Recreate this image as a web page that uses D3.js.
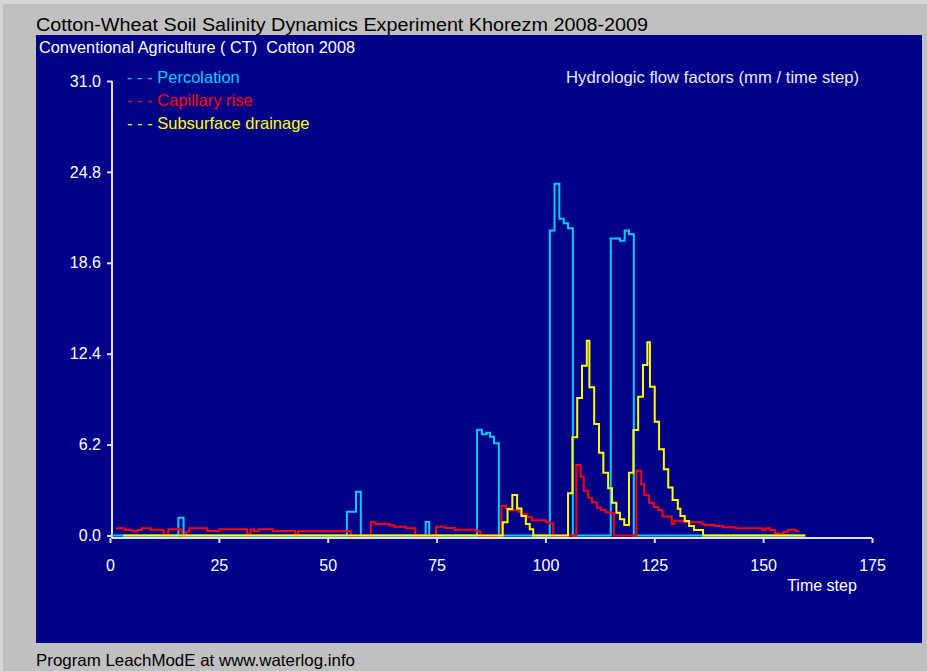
<!DOCTYPE html>
<html>
<head>
<meta charset="utf-8">
<script src="https://cdn.jsdelivr.net/npm/d3@7"></script>
<style>
body { margin: 0; background: #c0c0c0; }
text { font-family: "Liberation Sans", Arial, sans-serif; white-space: pre; }
</style>
</head>
<body>
<script>
var width = 927,
    height = 671;

var timeTicks = [0, 25, 50, 75, 100, 125, 150, 175];
var flowTicks = [0, 6.2, 12.4, 18.6, 24.8, 31.0];

// [time step, mm] - value is held until the next time step
var percolation = [[0.5, 0], [15.7, 1.21], [16.9, 0], [54.4, 1.62], [56.5, 2.99], [57.6, 0], [72.5, 0.92], [73.3, 0],
    [84.3, 7.22], [85.4, 6.9], [86.5, 7.0], [87.3, 6.74], [88.2, 6.29], [89.3, 0],
    [101.0, 20.8], [102.1, 24.0], [103.2, 21.6], [104.2, 21.3], [105.2, 20.95], [106.3, 0],
    [115.0, 20.25], [117.1, 20.1], [118.2, 20.8], [119.2, 20.55], [120.3, 0], [159.7, 0]];

var capillaryRise = [[1.4, 0.49], [3.4, 0.375], [5.2, 0.29], [6.3, 0.375], [7.3, 0.49], [9.3, 0.4], [12.3, 0], [13.4, 0.42],
    [16.5, 0], [17.5, 0.26], [18.2, 0.49], [22.3, 0.31], [25.1, 0.42], [31.5, 0.1], [32.3, 0.42], [33.1, 0.31], [34.1, 0.42],
    [37.4, 0.31], [42.5, 0.05], [43.2, 0.29], [55.3, 0], [59.9, 0.9], [61.0, 0.78], [64.1, 0.7], [65.2, 0.6], [68.0, 0.49],
    [70.1, 0], [74.9, 0.6], [77.0, 0.51], [79.2, 0.4], [84.0, 0.29], [85.1, 0], [89.9, 2.03], [90.9, 1.85], [91.8, 1.72],
    [93.8, 1.62], [94.4, 1.45], [95.7, 1.26], [96.8, 1.04], [100.1, 0.9], [101.0, 0.83], [101.8, 0],
    [107.1, 4.81], [108.1, 4.01], [108.8, 3.06], [109.8, 2.58], [110.7, 2.26], [111.8, 1.9], [112.8, 1.74], [113.8, 1.58],
    [114.8, 1.51], [115.7, 0], [120.9, 4.42], [122.0, 3.49], [122.7, 2.76], [123.8, 2.24], [124.9, 1.94], [125.9, 1.74],
    [126.9, 1.3], [129.0, 0.78], [129.6, 1.0], [131.8, 0.9], [135.9, 0.78], [136.6, 0.72], [138.7, 0.65], [140.8, 0.56],
    [143.7, 0.49], [149.9, 0.38], [150.6, 0.49], [151.5, 0.38], [152.7, 0.15], [154.7, 0.26], [155.7, 0.4], [157.5, 0.31], [158.3, 0.31]];

var subsurfaceDrainage = [[3, 0], [90.2, 0.9], [91.3, 1.81], [92.4, 2.76], [93.5, 1.85], [94.5, 1.33], [95.5, 0.78], [96.4, 0.42], [97.2, 0],
    [105.2, 2.88], [106.2, 6.7], [107.3, 9.38], [108.4, 11.58], [109.5, 13.29], [110.1, 10.11], [111.2, 7.6], [112.3, 5.65],
    [113.3, 4.28], [114.4, 3.22], [115.3, 2.24], [116.3, 1.56], [117.1, 1.1], [118.1, 0.72],
    [119.2, 4.28], [120.2, 7.2], [121.3, 9.47], [122.4, 11.63], [123.4, 13.18], [124.0, 10.15], [125.1, 7.76], [126.1, 5.88],
    [127.2, 4.52], [128.2, 3.27], [129.2, 2.42], [130.4, 1.83], [131.0, 1.33], [132.0, 0.99], [133.0, 0.65], [134.1, 0.38],
    [136.2, 0], [159.7, 0]];

var seriesNames = ['Percolation', 'Capillary rise', 'Subsurface drainage'];
var seriesColors = ['#00ccff', '#ff0000', '#ffff00'];
var seriesData = [percolation, capillaryRise, subsurfaceDrainage];

var svg = d3.select('body').append('svg').attr('width', width).attr('height', height);

// window + panel
svg.append('rect').attr('width', width).attr('height', height).attr('fill', '#c0c0c0');
svg.append('rect').attr('x', 0).attr('y', 0).attr('width', width).attr('height', 4).attr('fill', '#d6d6d6');
svg.append('rect').attr('x', 0).attr('y', 0).attr('width', 3).attr('height', height).attr('fill', '#d6d6d6');
svg.append('rect').attr('x', 36).attr('y', 35).attr('width', 886).attr('height', 608).attr('fill', '#000088');

function label(x0, y0, color, size, txt, len) {
    var t = svg.append('text').attr('x', x0).attr('y', y0).attr('fill', color).style('font-size', size + 'px').text(txt);
    if (len) t.attr('textLength', len).attr('lengthAdjust', 'spacingAndGlyphs');
    return t;
}
label(36, 31, '#000', 18, 'Cotton-Wheat Soil Salinity Dynamics Experiment Khorezm 2008-2009', 612);
label(39, 53, '#fff', 16.3, 'Conventional Agriculture ( CT)  Cotton 2008', 316);
label(566, 83, '#e8e8f8', 16.5, 'Hydrologic flow factors (mm / time step)', 293);
label(36, 666, '#000', 16.5, 'Program LeachModE at www.waterlog.info', 319);

var x = d3.scaleLinear().domain([0, 175]).range([110, 872]);
var y = d3.scaleLinear().domain([0, 31]).range([535.5, 81]);

// axes
var axisColor = '#e0e0f0';
var xAxis = svg.append('g').attr('transform', 'translate(0,' + (y(0) + 2.5) + ')')
    .call(d3.axisBottom(x).tickValues(timeTicks).tickSize(5).tickSizeOuter(0).tickPadding(17));
var yAxis = svg.append('g').attr('transform', 'translate(' + (x(0) + 2) + ',0)')
    .call(d3.axisLeft(y).tickValues(flowTicks).tickFormat(d3.format('.1f')).tickSize(5).tickSizeOuter(0).tickPadding(6));
[xAxis, yAxis].forEach(function (g) {
    g.select('.domain').remove();
    g.selectAll('line').attr('stroke', axisColor).attr('stroke-width', 2);
    g.selectAll('text').attr('fill', '#fff').style('font-size', '16px').style('font-family', '"Liberation Sans", Arial, sans-serif');
});
svg.append('line').attr('x1', x(0) + 2).attr('x2', x(175)).attr('y1', y(0) + 2.5).attr('y2', y(0) + 2.5)
    .attr('stroke', axisColor).attr('stroke-width', 2);
svg.append('line').attr('x1', x(0) + 2).attr('x2', x(0) + 2).attr('y1', y(31)).attr('y2', y(0) + 2.5)
    .attr('stroke', axisColor).attr('stroke-width', 2);

label(822, 591, '#fff', 16, 'Time step').attr('text-anchor', 'middle');

// series
var line = d3.line()
    .x(function (d) { return x(d[0]); })
    .y(function (d) { return y(d[1]); })
    .curve(d3.curveStepAfter);

svg.selectAll('path.series')
    .data(seriesData)
    .enter()
    .append('path')
    .attr('class', 'series')
    .attr('d', line)
    .attr('fill', 'none')
    .attr('stroke', function (d, i) { return seriesColors[i]; })
    .attr('stroke-width', 2);

// legend
svg.selectAll('text.legend')
    .data(seriesNames)
    .enter()
    .append('text')
    .attr('class', 'legend')
    .attr('x', 127)
    .attr('y', function (d, i) { return 83 + i * 23; })
    .attr('fill', function (d, i) { return seriesColors[i]; })
    .style('font-size', '16.5px')
    .text(function (d) { return '- - - ' + d; });
</script>
</body>
</html>
